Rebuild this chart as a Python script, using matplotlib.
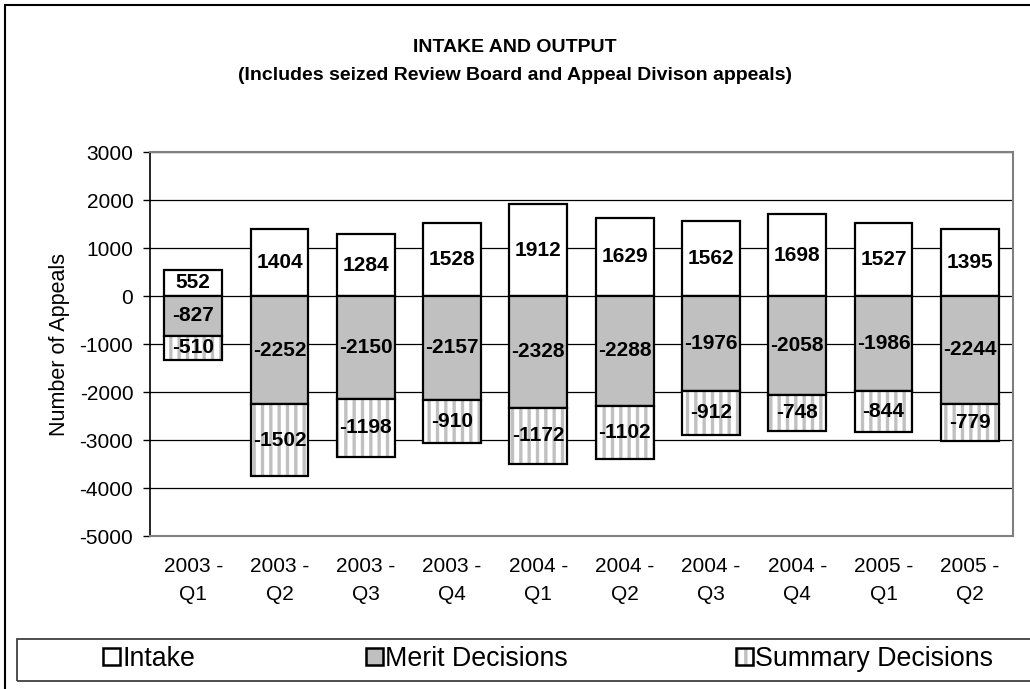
import numpy as np
import matplotlib
matplotlib.use('Agg')
import matplotlib.pyplot as plt
from matplotlib.patches import Rectangle, Patch
from matplotlib.legend_handler import HandlerTuple

plt.rcParams['font.family'] = ['Liberation Sans', 'DejaVu Sans']
plt.rcParams['hatch.linewidth'] = 2.4
plt.rcParams['axes.unicode_minus'] = False

# Dane
kwartaly = ['2003 -\nQ1', '2003 -\nQ2', '2003 -\nQ3', '2003 -\nQ4', '2004 -\nQ1',
            '2004 -\nQ2', '2004 -\nQ3', '2004 -\nQ4', '2005 -\nQ1', '2005 -\nQ2']
intake = [552, 1404, 1284, 1528, 1912, 1629, 1562, 1698, 1527, 1395]
merit = [-827, -2252, -2150, -2157, -2328, -2288, -1976, -2058, -1986, -2244]
summary = [-510, -1502, -1198, -910, -1172, -1102, -912, -748, -844, -779]

szary = '#c0c0c0'

fig = plt.figure(figsize=(10.30, 6.89), dpi=100)
ax = fig.add_axes([150/1030, 1-536/689, 863/1030, 384/689])

x = np.arange(len(kwartaly))
w = 0.67

# slupki
ax.bar(x, intake, w, color='white', edgecolor='black', linewidth=1.6, zorder=3)
ax.bar(x, merit, w, color=szary, edgecolor='black', linewidth=1.6, zorder=3)
ax.bar(x, summary, w, bottom=merit, color='white', edgecolor=szary, hatch='||',
       linewidth=0, zorder=3)
ax.bar(x, summary, w, bottom=merit, fill=False, edgecolor='black', linewidth=1.6, zorder=4)

# etykiety
for i in range(len(x)):
    ax.text(x[i], intake[i]/2, str(intake[i]), ha='center', va='center',
            fontsize=15, fontweight='bold', zorder=5)
    ax.text(x[i], merit[i]/2, str(merit[i]), ha='center', va='center',
            fontsize=15, fontweight='bold', zorder=5)
    ax.text(x[i], merit[i] + summary[i]/2, str(summary[i]), ha='center', va='center',
            fontsize=15, fontweight='bold', zorder=5)

ax.set_xlim(-0.5, len(x) - 0.5)
ax.set_ylim(-5000, 3000)
ax.set_yticks(np.arange(-5000, 3001, 1000))
ax.set_xticks(x)
ax.set_xticklabels(kwartaly, fontsize=15, linespacing=1.6)
ax.tick_params(axis='x', length=0, pad=15)
ax.tick_params(axis='y', labelsize=15, length=5, width=1, direction='out', pad=7)
ax.yaxis.grid(True, color='black', linewidth=0.9, zorder=0)
ax.set_axisbelow(True)
for s in ['top', 'right', 'bottom']:
    ax.spines[s].set_color('#808080')
    ax.spines[s].set_linewidth(1.5)
ax.spines['left'].set_color('black')
ax.spines['left'].set_linewidth(1.2)
ax.set_ylabel('Number of Appeals', fontsize=15.5, labelpad=7)

fig.text(0.5, 1-48/689, 'INTAKE AND OUTPUT', ha='center', va='center',
         fontsize=14, fontweight='bold')
fig.text(0.5, 1-75/689, '(Includes seized Review Board and Appeal Divison appeals)',
         ha='center', va='center', fontsize=14, fontweight='bold')

# ramki
fig.patches.append(Rectangle((5/1030, -0.1), 1.2, 1-5/689+0.1, transform=fig.transFigure,
                             fill=False, edgecolor='black', linewidth=1.5))
fig.patches.append(Rectangle((17/1030, 1-681/689), 1.2, 42/689, transform=fig.transFigure,
                             fill=False, edgecolor='#404040', linewidth=1.3))

# legenda
uchwyty = [Patch(facecolor='white', edgecolor='black', linewidth=1.8),
           Patch(facecolor=szary, edgecolor='black', linewidth=1.8),
           (Patch(facecolor='white', edgecolor=szary, linewidth=0, hatch='||'),
            Patch(fill=False, edgecolor='black', linewidth=1.8))]
nazwy = ['Intake', 'Merit Decisions', 'Summary Decisions']
pozycje = [103, 366, 736]
for h, n, p in zip(uchwyty, nazwy, pozycje):
    leg = fig.legend(handles=[h], labels=[n], loc='center left',
                     bbox_to_anchor=(p/1030, 1-659/689), frameon=False,
                     fontsize=19.3, handlelength=0.62, handleheight=0.62,
                     handletextpad=0.1, borderpad=0, borderaxespad=0,
                     handler_map={tuple: HandlerTuple(ndivide=1)})

fig.savefig('out.png', dpi=100)
